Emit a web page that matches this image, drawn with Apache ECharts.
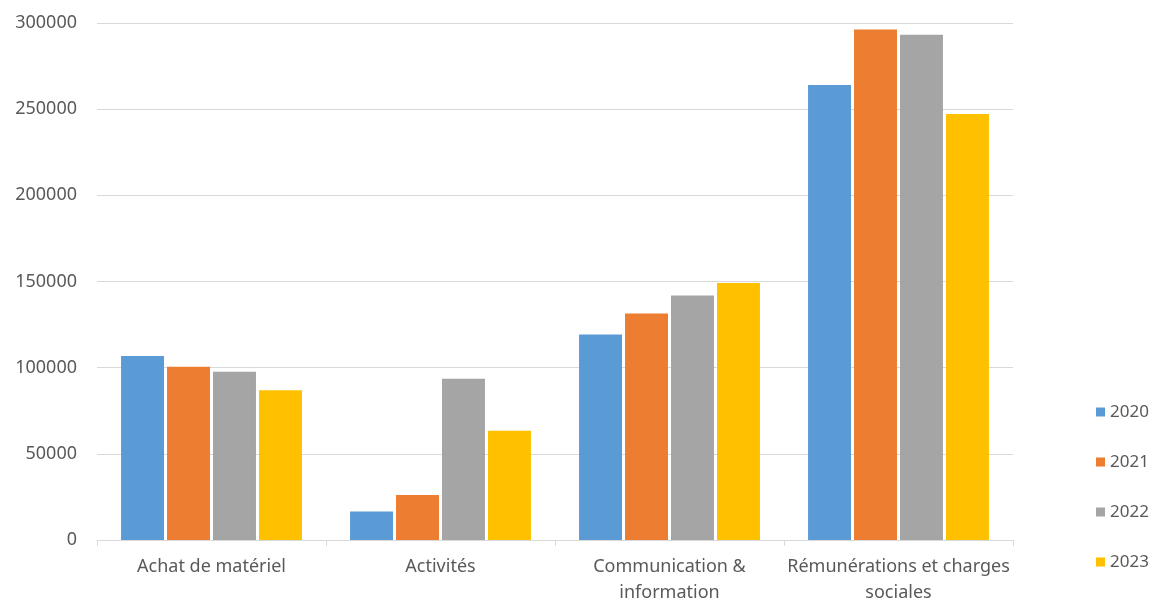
<!DOCTYPE html>
<html>
<head>
<meta charset="utf-8">
<style>html,body{margin:0;padding:0;background:#fff;}#c{width:1151px;height:606px;}</style>
<script src="https://cdn.jsdelivr.net/npm/echarts@6/dist/echarts.min.js"></script>
</head>
<body>
<div id="c"></div>
<script>
const categories = ["Achat de matériel", "Activités", "Communication &\ninformation", "Rémunérations et charges\nsociales"];
const years = ["2020", "2021", "2022", "2023"];
const v2020 = [106700, 16500, 119200, 264000];
const v2021 = [100500, 26100, 131500, 296200];
const v2022 = [97600, 93600, 141900, 293200];
const v2023 = [86900, 63400, 149200, 247200];
const yTicks = [0, 50000, 100000, 150000, 200000, 250000, 300000];
const colors = ["#5B9BD5", "#ED7D31", "#A5A5A5", "#FFC000"];
const seriesValues = [v2020, v2021, v2022, v2023];

const font = "Noto Sans";
const chart = echarts.init(document.getElementById('c'), null, {renderer: 'canvas'});
chart.setOption({
  animation: false,
  backgroundColor: '#ffffff',
  color: colors,
  grid: {left: 97, right: 138, top: 23, bottom: 62, containLabel: false},
  legend: {
    orient: 'vertical',
    left: 1091,
    top: 397,
    icon: 'rect',
    itemWidth: 9,
    itemHeight: 9,
    itemGap: 30,
    textStyle: {fontFamily: font, fontSize: 17, color: '#595959', lineHeight: 20},
    data: years
  },
  xAxis: {
    type: 'category',
    data: categories,
    axisLine: {lineStyle: {color: '#D9D9D9', width: 1}},
    axisTick: {show: true, length: 6, lineStyle: {color: '#D9D9D9'}},
    axisLabel: {interval: 0, margin: 14, fontFamily: font, fontSize: 18, color: '#595959', lineHeight: 26}
  },
  yAxis: {
    type: 'value',
    min: yTicks[0],
    max: yTicks[yTicks.length - 1],
    interval: yTicks[1] - yTicks[0],
    axisLine: {show: false},
    axisTick: {show: false},
    splitLine: {lineStyle: {color: '#D9D9D9', width: 1}},
    axisLabel: {margin: 20, fontFamily: font, fontSize: 18, color: '#595959', formatter: v => String(v)}
  },
  series: years.map((y, i) => ({
    name: y,
    type: 'bar',
    data: seriesValues[i],
    barGap: '7%',
    barCategoryGap: '21%',
    itemStyle: {color: colors[i]}
  }))
});
</script>
</body>
</html>
